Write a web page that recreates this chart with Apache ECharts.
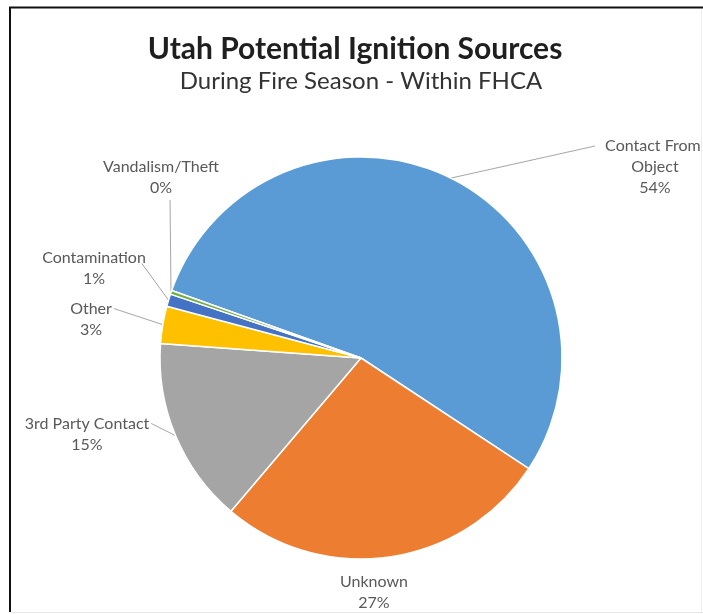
<!DOCTYPE html>
<html>
<head>
<meta charset="utf-8">
<script src="https://cdn.jsdelivr.net/npm/echarts@6/dist/echarts.min.js"></script>
<style>
  html, body { margin: 0; padding: 0; background: #ffffff; }
  #chart { width: 703px; height: 614px; }
</style>
</head>
<body>
<div id="chart"></div>
<script>
// Ignition source categories and their shares (percent)
const categories = ['Contact From Object', 'Unknown', '3rd Party Contact', 'Other', 'Contamination', 'Vandalism/Theft'];
const shares = [54, 27, 15, 3, 1, 0.3];
const sliceColors = ['#5B9BD5', '#ED7D31', '#A5A5A5', '#FFC000', '#4472C4', '#70AD47'];

// Where each category's label is centred, and which side its leader line meets
const labelSpots = {
  'Contact From Object': { pos: [655, 167], attach: 'left' },
  'Unknown': { pos: [374, 592], attach: 'none' },
  '3rd Party Contact': { pos: [87, 434], attach: 'right' },
  'Other': { pos: [91, 319], attach: 'right' },
  'Contamination': { pos: [94, 268], attach: 'below-right' },
  'Vandalism/Theft': { pos: [161, 177], attach: 'below' }
};

const FONT = 'Lato, "Open Sans", sans-serif';
const LINE_H = 21;

const chart = echarts.init(document.getElementById('chart'), null, { renderer: 'canvas' });

const pieData = categories.map((name, i) => {
  const item = { name: name, value: shares[i], itemStyle: { color: sliceColors[i] } };
  if (name === 'Contact From Object') {
    item.label = { width: 110, overflow: 'break' };
  }
  if (labelSpots[name].attach === 'none') {
    item.labelLine = { show: false };
  }
  return item;
});

chart.setOption({
  backgroundColor: '#ffffff',
  animation: false,
  title: [
    {
      text: 'Utah Potential Ignition Sources',
      left: 350, top: 29, textAlign: 'center',
      textStyle: { fontFamily: FONT, fontWeight: 'bold', fontSize: 30, color: '#1f1f1f' }
    },
    {
      text: 'During Fire Season - Within FHCA',
      left: 356, top: 64, textAlign: 'center',
      textStyle: { fontFamily: FONT, fontWeight: 'normal', fontSize: 24, color: '#333333' }
    }
  ],
  graphic: [
    { type: 'line', shape: { x1: 9, y1: 7.5, x2: 703, y2: 7.5 }, style: { stroke: '#111111', lineWidth: 2 } },
    { type: 'line', shape: { x1: 10, y1: 7, x2: 10, y2: 612 }, style: { stroke: '#111111', lineWidth: 2 } },
    { type: 'line', shape: { x1: 11, y1: 612.5, x2: 703, y2: 612.5 }, style: { stroke: '#e6e6e6', lineWidth: 1 } },
    { type: 'line', shape: { x1: 701.5, y1: 9, x2: 701.5, y2: 612 }, style: { stroke: '#eeeeee', lineWidth: 1 } }
  ],
  series: [{
    type: 'pie',
    center: [361, 358],
    radius: 201,
    startAngle: 160.4,
    clockwise: true,
    percentPrecision: 0,
    avoidLabelOverlap: false,
    itemStyle: { borderColor: '#ffffff', borderWidth: 1.5 },
    label: {
      show: true,
      formatter: '{b}\n{d}%',
      fontFamily: FONT,
      fontSize: 16,
      lineHeight: LINE_H,
      color: '#595959',
      align: 'center'
    },
    labelLine: {
      show: true,
      length: 12,
      length2: 12,
      lineStyle: { color: '#a6a6a6', width: 1 }
    },
    labelLayout: function (params) {
      const name = categories[params.dataIndex];
      const spot = labelSpots[name];
      const w = params.labelRect.width;
      const h = params.labelRect.height;
      const left = spot.pos[0] - w / 2;
      const right = spot.pos[0] + w / 2;
      const top = spot.pos[1] - h / 2;
      const bottom = spot.pos[1] + h / 2;
      const out = {
        x: spot.pos[0],
        y: spot.pos[1],
        align: 'center',
        verticalAlign: 'middle',
        draggable: false
      };
      const pts = params.labelLinePoints;
      if (pts && pts.length && spot.attach !== 'none') {
        const anchor = pts[0];
        let end;
        if (spot.attach === 'left') end = [left - 5, top + LINE_H / 2];
        else if (spot.attach === 'right') end = [right + 2, top + LINE_H / 2];
        else if (spot.attach === 'below-right') end = [right - 4, top + LINE_H / 2 + 6];
        else end = [anchor[0] - 1, bottom + 2];
        out.labelLinePoints = [anchor, end];
      }
      return out;
    },
    emphasis: { disabled: true },
    data: pieData
  }]
});
</script>
</body>
</html>
